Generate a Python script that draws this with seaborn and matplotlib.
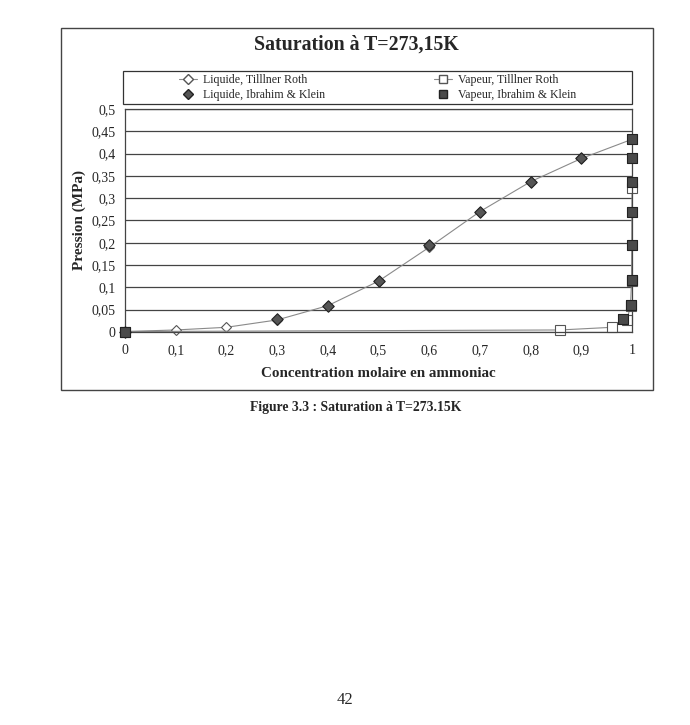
import matplotlib
matplotlib.use("Agg")
import matplotlib.pyplot as plt
import seaborn as sns
import pandas as pd
from matplotlib.lines import Line2D
from matplotlib.patches import Rectangle

# Liquide, Tillner Roth
liq_tr_x = [0.0, 0.1, 0.2, 0.3, 0.4, 0.5, 0.6, 0.7, 0.8, 0.9, 1.0]
liq_tr_p = [0.001, 0.0045, 0.0105, 0.027, 0.059, 0.114, 0.19, 0.27, 0.337, 0.389, 0.432]

# Vapeur, Tillner Roth
vap_tr_x = [0.0, 0.858, 0.961, 0.99, 0.997, 0.999, 1.0, 1.0, 1.0, 1.0, 1.0]
vap_tr_p = [0.001, 0.0045, 0.0105, 0.027, 0.059, 0.114, 0.19, 0.27, 0.337, 0.389, 0.432]

# Liquide, Ibrahim & Klein
liq_ik_x = [0.0, 0.3, 0.4, 0.5, 0.6, 0.7, 0.8, 0.9]
liq_ik_p = [0.001, 0.028, 0.059, 0.115, 0.196, 0.27, 0.337, 0.389]

# Vapeur, Ibrahim & Klein
vap_ik_x = [0.0, 0.982, 0.997, 0.999, 1.0, 1.0, 1.0, 1.0, 1.0]
vap_ik_p = [0.001, 0.029, 0.0605, 0.116, 0.196, 0.27, 0.337, 0.389, 0.432]

x_ticks = [0, 0.1, 0.2, 0.3, 0.4, 0.5, 0.6, 0.7, 0.8, 0.9, 1]
x_labels = ["0", "0,1", "0,2", "0,3", "0,4", "0,5", "0,6", "0,7", "0,8", "0,9", "1"]
y_ticks = [0, 0.05, 0.1, 0.15, 0.2, 0.25, 0.3, 0.35, 0.4, 0.45, 0.5]
y_labels = ["0", "0,05", "0,1", "0,15", "0,2", "0,25", "0,3", "0,35", "0,4", "0,45", "0,5"]

sns.set_style("white")
plt.rcParams['font.family'] = ['Liberation Serif', 'DejaVu Serif']

fig = plt.figure(figsize=(6.9, 7.25), dpi=100)
ax = fig.add_axes([0.1812, 0.5421, 0.7348, 0.3076])

line_col = "#8a8a8a"
df_liq_tr = pd.DataFrame({"x": liq_tr_x, "p": liq_tr_p})
df_vap_tr = pd.DataFrame({"x": vap_tr_x, "p": vap_tr_p})
df_liq_ik = pd.DataFrame({"x": liq_ik_x, "p": liq_ik_p})
df_vap_ik = pd.DataFrame({"x": vap_ik_x, "p": vap_ik_p})

sns.lineplot(data=df_liq_tr, x="x", y="p", sort=False, ax=ax, color=line_col, lw=0.8,
             marker="D", markersize=5.5, markerfacecolor="white", markeredgecolor="#555555",
             markeredgewidth=0.8, clip_on=False)
sns.lineplot(data=df_vap_tr, x="x", y="p", sort=False, ax=ax, color=line_col, lw=0.8,
             marker="s", markersize=6.5, markerfacecolor="white", markeredgecolor="#555555",
             markeredgewidth=0.8, clip_on=False)
sns.scatterplot(data=df_liq_ik, x="x", y="p", ax=ax, marker="D", s=34,
                color="#555555", edgecolor="#222222", linewidth=0.8, zorder=5, clip_on=False)
sns.scatterplot(data=df_vap_ik, x="x", y="p", ax=ax, marker="s", s=48,
                color="#4a4a4a", edgecolor="#222222", linewidth=0.8, zorder=6, clip_on=False)

ax.set_xlim(0, 1)
ax.set_ylim(0, 0.5)
ax.set_xticks(x_ticks)
ax.set_xticklabels(x_labels, fontsize=10)
ax.set_yticks(y_ticks)
ax.set_yticklabels(y_labels, fontsize=10)
ax.tick_params(axis="y", direction="out", length=3, width=0.8, color="#333333", pad=4)
ax.tick_params(axis="x", direction="out", length=3, width=0.8, color="#333333", pad=6)
ax.grid(axis="y", color="#444444", lw=0.9)
for s in ax.spines.values():
    s.set_color("#444444")
    s.set_linewidth(0.9)
ax.set_xlabel("Concentration molaire en ammoniac", fontsize=10.8, fontweight="bold", labelpad=7)
ax.set_ylabel("Pression (MPa)", fontsize=11, fontweight="bold", labelpad=4)

fig.text(0.517, 0.938, "Saturation à T=273,15K", ha="center", va="center",
         fontsize=14.3, fontweight="bold")

# legend: frame drawn separately, two single-column legends inside
h_liq_tr = Line2D([], [], color=line_col, lw=0.8, marker="D", markersize=5,
                  markerfacecolor="white", markeredgecolor="#555555")
h_liq_ik = Line2D([], [], color="none", marker="D", markersize=5,
                  markerfacecolor="#555555", markeredgecolor="#222222")
h_vap_tr = Line2D([], [], color=line_col, lw=0.8, marker="s", markersize=6,
                  markerfacecolor="white", markeredgecolor="#555555")
h_vap_ik = Line2D([], [], color="none", marker="s", markersize=6,
                  markerfacecolor="#4a4a4a", markeredgecolor="#222222")

leg_y = 1 - 87.5 / 725
leg1 = fig.legend([h_liq_tr, h_liq_ik], ["Liquide, Tilllner Roth", "Liquide, Ibrahim & Klein"],
                  loc="center left", bbox_to_anchor=(179 / 690, leg_y), frameon=False,
                  fontsize=8.6, borderpad=0, borderaxespad=0, labelspacing=0.25,
                  handlelength=1.5, handletextpad=0.5)
leg2 = fig.legend([h_vap_tr, h_vap_ik], ["Vapeur, Tilllner Roth", "Vapeur, Ibrahim & Klein"],
                  loc="center left", bbox_to_anchor=(434 / 690, leg_y), frameon=False,
                  fontsize=8.6, borderpad=0, borderaxespad=0, labelspacing=0.25,
                  handlelength=1.5, handletextpad=0.5)

fig.patches.append(Rectangle((123 / 690, 1 - 104 / 725), 509 / 690, 33 / 725,
                             transform=fig.transFigure, fill=False,
                             edgecolor="#333333", lw=0.9))
fig.patches.append(Rectangle((61 / 690, 1 - 390 / 725), 592 / 690, 362 / 725,
                             transform=fig.transFigure, fill=False,
                             edgecolor="#444444", lw=1.0))

fig.text(0.516, 1 - 407 / 725, "Figure 3.3 : Saturation à T=273.15K", ha="center",
         va="center", fontsize=9.8, fontweight="bold")
fig.text(0.5, 0.034, "42", ha="center", va="center", fontsize=12)

fig.savefig("out.png", dpi=100)
